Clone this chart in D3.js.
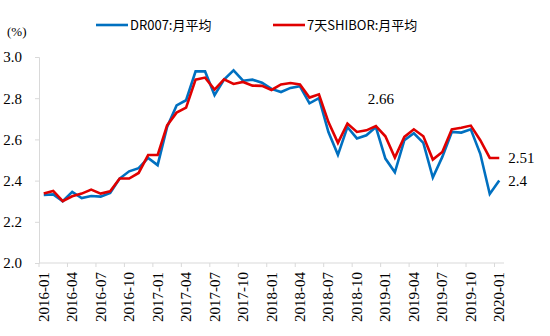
<!DOCTYPE html>
<html>
<head>
<meta charset="utf-8">
<script src="https://cdn.jsdelivr.net/npm/d3@7"></script>
<style>
  body { margin: 0; background: #fff; }
  svg { display: block; }
</style>
</head>
<body>
<svg id="chart" width="550" height="336"></svg>
<script>
// monthly averages, 2016-01 .. 2020-01
const months = [];
for (let yr = 2016; yr <= 2020; yr++) {
  for (let m = 1; m <= 12; m++) {
    if (yr === 2020 && m > 1) break;
    months.push(yr + "-" + String(m).padStart(2, "0"));
  }
}

const dr007 = [
  2.33, 2.333, 2.30, 2.345, 2.315, 2.325, 2.322, 2.34, 2.41, 2.445, 2.46, 2.51,
  2.475, 2.66, 2.765, 2.79, 2.93, 2.93, 2.815, 2.89, 2.935, 2.885, 2.89, 2.875,
  2.845, 2.83, 2.85, 2.858, 2.775, 2.80, 2.636, 2.525, 2.66, 2.605, 2.62, 2.66,
  2.507, 2.44, 2.596, 2.63, 2.583, 2.415, 2.515, 2.636, 2.633, 2.649, 2.53, 2.335,
  2.40
];

const shibor = [
  2.337, 2.35, 2.30, 2.324, 2.337, 2.356, 2.337, 2.348, 2.41, 2.41, 2.437, 2.524,
  2.524, 2.668, 2.73, 2.754, 2.89, 2.90, 2.842, 2.892, 2.869, 2.879, 2.861, 2.86,
  2.84, 2.867, 2.874, 2.867, 2.803, 2.819, 2.684, 2.583, 2.677, 2.636, 2.644, 2.665,
  2.615, 2.512, 2.612, 2.649, 2.615, 2.502, 2.539, 2.649, 2.657, 2.667, 2.596, 2.51,
  2.51
];

const yTicks = [2.0, 2.2, 2.4, 2.6, 2.8, 3.0];
const seriesNames = ["DR007:月平均", "7天SHIBOR:月平均"];
const colors = ["#0070c0", "#e00000"];

const labels = [
  { text: "2.66", month: "2018-12", value: 2.66, dx: 5, dy: -23, anchor: "middle" },
  { text: "2.51", month: "2020-01", value: 2.51, dx: 9, dy: 5, anchor: "start" },
  { text: "2.4", month: "2020-01", value: 2.40, dx: 9, dy: 5, anchor: "start" }
];

const svg = d3.select("#chart");
const plotLeft = 39, plotRight = 504, plotTop = 57, plotBottom = 263;

const x = d3.scaleBand()
  .domain(months)
  .range([plotLeft, plotRight])
  .padding(0);

const y = d3.scaleLinear()
  .domain([2.0, 3.0])
  .range([plotBottom, plotTop]);

const serif = "'Liberation Serif', 'Times New Roman', serif";
const cjk = "'Noto Sans CJK SC', sans-serif";

// y axis
const yAxis = svg.append("g")
  .attr("transform", `translate(${plotLeft},0)`)
  .call(d3.axisLeft(y).tickValues(yTicks).tickSize(4).tickPadding(13).tickFormat(d3.format(".1f")));
yAxis.selectAll("text")
  .attr("font-family", serif)
  .attr("font-size", "15px")
  .attr("fill", "#000");
yAxis.selectAll("line, path").attr("stroke", "#d9d9d9");

// x axis - ticks at band edges every 3 months, labels at band centres
const shown = months.filter((d, i) => i % 3 === 0);
const xAxis = svg.append("g")
  .attr("transform", `translate(0,${plotBottom})`);
xAxis.append("line")
  .attr("x1", plotLeft).attr("x2", plotRight)
  .attr("stroke", "#d9d9d9");
xAxis.selectAll("line.tick")
  .data(shown)
  .join("line")
  .attr("class", "tick")
  .attr("x1", d => x(d)).attr("x2", d => x(d))
  .attr("y1", 0).attr("y2", 4)
  .attr("stroke", "#d9d9d9");
xAxis.selectAll("text")
  .data(shown)
  .join("text")
  .attr("transform", d => `translate(${x(d) + x.bandwidth() / 2 + 5},9) rotate(-90)`)
  .attr("text-anchor", "end")
  .attr("font-family", serif)
  .attr("font-size", "15px")
  .text(d => d);

// lines
const line = d3.line()
  .x((d, i) => x(months[i]) + x.bandwidth() / 2)
  .y(d => y(d));

[dr007, shibor].forEach((s, k) => {
  svg.append("path")
    .datum(s)
    .attr("fill", "none")
    .attr("stroke", colors[k])
    .attr("stroke-width", 2.6)
    .attr("stroke-linejoin", "miter")
    .attr("d", line);
});

// value labels
svg.selectAll("text.val")
  .data(labels)
  .join("text")
  .attr("class", "val")
  .attr("x", d => x(d.month) + x.bandwidth() / 2 + d.dx)
  .attr("y", d => y(d.value) + d.dy)
  .attr("text-anchor", d => d.anchor)
  .attr("font-family", serif)
  .attr("font-size", "15px")
  .text(d => d.text);

// unit
svg.append("text")
  .attr("x", 7).attr("y", 36)
  .attr("font-family", serif)
  .attr("font-size", "13px")
  .text("(%)");

// legend
const legendX = [96, 273];
seriesNames.forEach((name, k) => {
  svg.append("line")
    .attr("x1", legendX[k]).attr("x2", legendX[k] + 32)
    .attr("y1", 25).attr("y2", 25)
    .attr("stroke", colors[k])
    .attr("stroke-width", 2.6);
  svg.append("text")
    .attr("x", legendX[k] + 34).attr("y", 30)
    .attr("font-family", cjk)
    .attr("font-size", "13px")
    .text(name);
});
</script>
</body>
</html>
